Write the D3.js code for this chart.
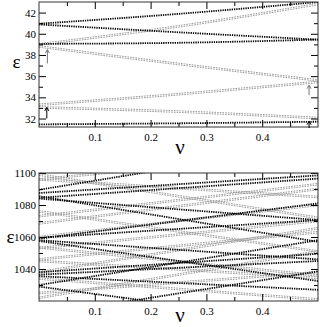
<!DOCTYPE html>
<html>
<head>
<script src="https://d3js.org/d3.v7.min.js"></script>
<style>
  body { margin: 0; background: #fff; }
  svg { display: block; }
  text { font-family: "Liberation Serif", "DejaVu Serif", serif; fill: #000; }
  .tick line { stroke: #000; }
</style>
</head>
<body>
<svg id="chart" width="320" height="327"></svg>
<script>
// ---- data ----
// nu values at which each level is sampled
const nuTop = [0, 0.25, 0.5];
const nuBottom = [0, 0.5];

// top panel (epsilon 31..43): dark levels and grey levels
const topDark = [
  [40.95, 41.88, 43.0],
  [40.88, 40.14, 39.45],
  [39.05, 39.15, 39.45],
  [31.45, 31.55, 31.7]
];
const topGrey = [
  [39.0, 40.7, 42.8],
  [38.8, 37.15, 35.6],
  [33.3, 34.3, 35.45],
  [33.05, 32.65, 32.05]
];
// arrows: nu, eps tail, eps head, dark?
const topArrowNu   = [0.015, 0.014, 0.484, 0.484];
const topArrowFrom = [37.2, 32.0, 34.2, 31.1];
const topArrowTo   = [38.5, 33.05, 35.15, 31.75];
const topArrowDark = [false, true, false, true];

// bottom panel (epsilon 1020..1100): levels at nu = 0 and nu = 0.5
const bottomDark = [
  [1089.5, 1118],
  [1087.5, 1098.5],
  [1084.5, 1096.5],
  [1085.5, 1057],
  [1084, 1070.6],
  [1059.5, 1070.6],
  [1059, 1081],
  [1058, 1046],
  [1057.5, 1032.5],
  [1030, 1058],
  [1038, 1049.5],
  [1036.5, 1045],
  [1035.5, 1027],
  [1029, 1006],
  [1011, 1038.5]
];
const bottomGrey = [
  [1099, 1072],
  [1096, 1113],
  [1096, 1085],
  [1076, 1051],
  [1073, 1093],
  [1068.5, 1090],
  [1060, 1080],
  [1053, 1070],
  [1053.5, 1036],
  [1046, 1063],
  [1045, 1034.5],
  [1038, 1065.5],
  [1025, 1038],
  [1022, 1051],
  [1034, 1021]
];

const nuMajor = [0.1, 0.2, 0.3, 0.4];
const nuMinor = [0.05, 0.15, 0.25, 0.35, 0.45];
const topMajor = [32, 34, 36, 38, 40, 42];
const topMinor = [33, 35, 37, 39, 41];
const bottomMajor = [1040, 1060, 1080, 1100];
const bottomMinor = [1030, 1050, 1070, 1090];

// ---- drawing ----
const svg = d3.select('#chart');
const x = d3.scaleLinear().domain([0, 0.5]).range([39, 318]);

function panel(id, yDomain, yRange, nus, dark, grey, major, minor, labelX, labelY, nuY) {
  const y = d3.scaleLinear().domain(yDomain).range(yRange);
  const top = yRange[1], bottom = yRange[0];
  const g = svg.append('g');

  g.append('clipPath').attr('id', id)
    .append('rect').attr('x', 39).attr('y', top).attr('width', 279).attr('height', bottom - top);

  const line = d3.line().x((d, i) => x(nus[i])).y(d => y(d))
    .curve(nus.length > 2 ? d3.curveNatural : d3.curveLinear);

  const marks = g.append('g').attr('clip-path', `url(#${id})`);
  // grey levels look like two faint dotted lines close together
  [-0.8, 0.8].forEach(off => {
    marks.append('g').attr('transform', `translate(0,${off})`)
      .selectAll('path').data(grey).enter().append('path')
      .attr('d', line).attr('fill', 'none')
      .attr('stroke', '#9a9a9a').attr('stroke-width', 1)
      .attr('stroke-dasharray', '1.6 1.1');
  });
  marks.selectAll('path.dark').data(dark).enter().append('path')
    .attr('class', 'dark')
    .attr('d', line).attr('fill', 'none')
    .attr('stroke', '#000').attr('stroke-width', 1.8)
    .attr('stroke-dasharray', '1.3 1');

  // axes with ticks pointing inward on all four sides
  const fmt = d3.format('');
  g.append('g').attr('transform', `translate(0,${bottom})`)
    .call(d3.axisBottom(x).tickValues(nuMajor).tickSize(-7).tickPadding(6).tickFormat(d3.format('.1f')));
  g.append('g').attr('transform', `translate(0,${bottom})`)
    .call(d3.axisBottom(x).tickValues(nuMinor).tickSize(-4).tickFormat(''));
  g.append('g').attr('transform', `translate(0,${top})`)
    .call(d3.axisTop(x).tickValues(nuMajor).tickSize(-7).tickFormat(''));
  g.append('g').attr('transform', `translate(0,${top})`)
    .call(d3.axisTop(x).tickValues(nuMinor).tickSize(-4).tickFormat(''));
  g.append('g').attr('transform', 'translate(39,0)')
    .call(d3.axisLeft(y).tickValues(major).tickSize(-7).tickPadding(3).tickFormat(fmt));
  g.append('g').attr('transform', 'translate(39,0)')
    .call(d3.axisLeft(y).tickValues(minor).tickSize(-4).tickFormat(''));
  g.append('g').attr('transform', 'translate(318,0)')
    .call(d3.axisRight(y).tickValues(major).tickSize(-7).tickFormat(''));
  g.append('g').attr('transform', 'translate(318,0)')
    .call(d3.axisRight(y).tickValues(minor).tickSize(-4).tickFormat(''));
  g.selectAll('.domain').remove();
  g.selectAll('.tick text').style('font-size', '11px').style('font-family', '"Liberation Serif", serif');

  g.append('rect').attr('x', 39).attr('y', top).attr('width', 279).attr('height', bottom - top)
    .attr('fill', 'none').attr('stroke', '#333').attr('stroke-width', 1);

  g.append('text').attr('x', labelX).attr('y', labelY)
    .attr('text-anchor', 'middle').style('font-size', '19px').text('ε');
  g.append('text').attr('x', 180).attr('y', nuY)
    .attr('text-anchor', 'middle').style('font-size', '21px').text('ν');
  return y;
}

const yTop = panel('clipTop', [31.2, 43], [127, 2], nuTop, topDark, topGrey,
  topMajor, topMinor, 16.5, 68, 154);
panel('clipBottom', [1020, 1100], [301, 173], nuBottom, bottomDark, bottomGrey,
  bottomMajor, bottomMinor, 10.5, 243, 322);

// arrows in the top panel
topArrowNu.forEach((nu, i) => {
  const ax = x(nu), y0 = yTop(topArrowFrom[i]), y1 = yTop(topArrowTo[i]);
  const col = topArrowDark[i] ? '#000' : '#777';
  svg.append('path')
    .attr('d', `M${ax},${y0}V${y1}M${ax - 2},${y1 + 3.5}L${ax},${y1}L${ax + 2},${y1 + 3.5}`)
    .attr('fill', 'none').attr('stroke', col).attr('stroke-width', 1);
});
</script>
</body>
</html>
